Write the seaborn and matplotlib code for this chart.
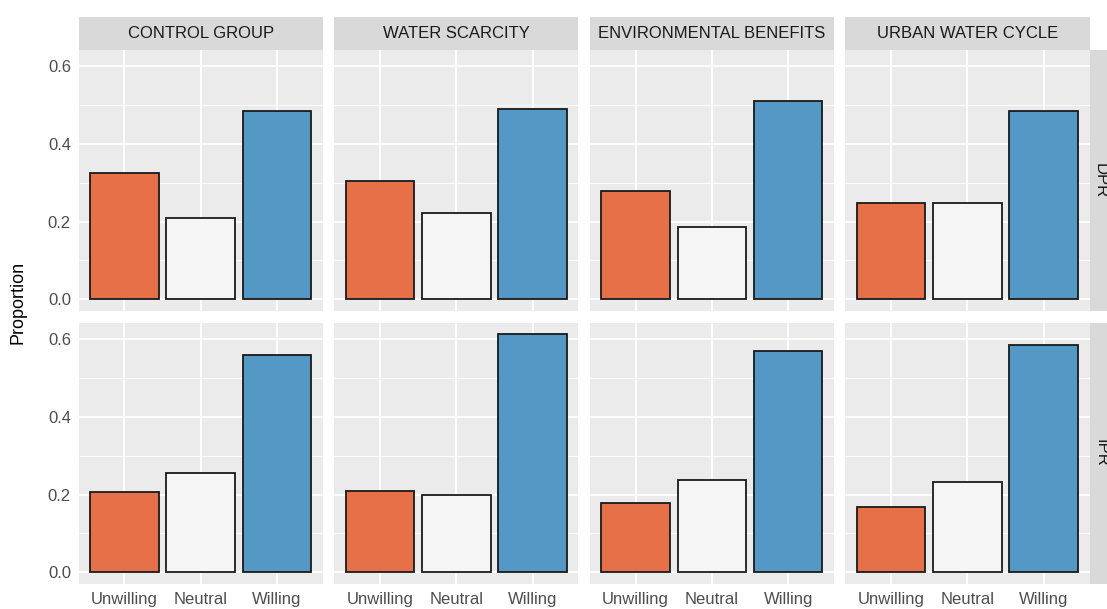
import matplotlib
matplotlib.use("Agg")
import matplotlib.pyplot as plt
import numpy as np
import pandas as pd
import seaborn as sns

# Proportions of respondents by willingness, framing condition and reuse type
responses = ["Unwilling", "Neutral", "Willing"]
frames = ["CONTROL GROUP", "WATER SCARCITY", "ENVIRONMENTAL BENEFITS", "URBAN WATER CYCLE"]
reuse_types = ["DPR", "IPR"]

dpr_control = [0.325, 0.208, 0.484]
dpr_scarcity = [0.304, 0.222, 0.489]
dpr_environment = [0.280, 0.187, 0.512]
dpr_urban = [0.247, 0.248, 0.486]

ipr_control = [0.207, 0.256, 0.561]
ipr_scarcity = [0.209, 0.200, 0.613]
ipr_environment = [0.179, 0.237, 0.570]
ipr_urban = [0.168, 0.232, 0.585]

palette = {"Unwilling": "#E67048", "Neutral": "#F5F5F5", "Willing": "#5499C6"}

values = {
    "DPR": [dpr_control, dpr_scarcity, dpr_environment, dpr_urban],
    "IPR": [ipr_control, ipr_scarcity, ipr_environment, ipr_urban],
}
rows = []
for rt in reuse_types:
    for frame, vals in zip(frames, values[rt]):
        for resp, v in zip(responses, vals):
            rows.append({"type": rt, "frame": frame, "response": resp, "proportion": v})
df = pd.DataFrame(rows)

sns.set_theme(style="darkgrid", rc={
    "axes.facecolor": "#EBEBEB",
    "grid.color": "white",
    "axes.edgecolor": "none",
})
plt.rcParams["font.family"] = ["Liberation Sans", "DejaVu Sans"]

W, H = 1107, 609
fig = plt.figure(figsize=(W / 100, H / 100), dpi=100)
fig.patch.set_facecolor("white")

col_left = [78.6, 334.2, 589.8, 845.4]
col_w = 244.1
row_top = [49.5, 322.5]
row_h = 261.5
strip_top = 17.0
strip_h = 32.5

ymax_data = df["proportion"].max()
ylim = (-0.05 * ymax_data, 1.05 * ymax_data)


def fig_rect(x0, y0, w, h):
    return [x0 / W, 1 - (y0 + h) / H, w / W, h / H]


for r, rt in enumerate(reuse_types):
    for c, frame in enumerate(frames):
        ax = fig.add_axes(fig_rect(col_left[c], row_top[r], col_w, row_h))
        sub = df[(df["type"] == rt) & (df["frame"] == frame)]
        sns.barplot(data=sub, x="response", y="proportion", hue="response",
                    order=responses, hue_order=responses, palette=palette,
                    width=0.9, edgecolor="#1A1A1A", linewidth=1.3,
                    legend=False, ax=ax, saturation=1)
        ax.set_xlim(-0.6, 2.6)
        ax.set_ylim(*ylim)
        ax.set_yticks([0.0, 0.2, 0.4, 0.6])
        ax.set_yticks([0.1, 0.3, 0.5], minor=True)
        ax.grid(True, which="major", color="white", linewidth=1.3)
        ax.grid(True, which="minor", axis="y", color="white", linewidth=0.6)
        ax.set_axisbelow(True)
        ax.set_xlabel("")
        ax.set_ylabel("")
        for sp in ax.spines.values():
            sp.set_visible(False)
        ax.tick_params(axis="both", which="major", length=3.5, width=0.8,
                       color="#333333", labelsize=12, labelcolor="#4D4D4D", pad=2)
        ax.tick_params(axis="both", which="minor", length=0)
        if c == 0:
            ax.set_yticklabels(["0.0", "0.2", "0.4", "0.6"])
        else:
            ax.tick_params(axis="y", which="major", length=0, labelleft=False)
        if r == len(reuse_types) - 1:
            ax.set_xticks(range(len(responses)))
            ax.set_xticklabels(responses)
        else:
            ax.tick_params(axis="x", which="major", length=0, labelbottom=False)

        # column strip
        if r == 0:
            sax = fig.add_axes(fig_rect(col_left[c], strip_top, col_w, strip_h))
            sax.set_facecolor("#D9D9D9")
            sax.set_xticks([]); sax.set_yticks([])
            sax.grid(False)
            for sp in sax.spines.values():
                sp.set_visible(False)
            sax.text(0.5, 0.5, frame, ha="center", va="center", fontsize=12,
                     color="#1A1A1A", transform=sax.transAxes)

    # row strip on the right edge
    rax = fig.add_axes(fig_rect(1089.7, row_top[r], strip_h, row_h))
    rax.set_facecolor("#D9D9D9")
    rax.set_xticks([]); rax.set_yticks([])
    rax.grid(False)
    for sp in rax.spines.values():
        sp.set_visible(False)
    fig.text(1100.5 / W, 1 - (row_top[r] + row_h / 2) / H, rt, ha="center",
             va="center", rotation=270, fontsize=12, color="#1A1A1A")

fig.text(18 / W, 1 - 302 / H, "Proportion", rotation=90, ha="center", va="center",
         fontsize=13, color="#000000")

fig.savefig("out.png", dpi=100)
